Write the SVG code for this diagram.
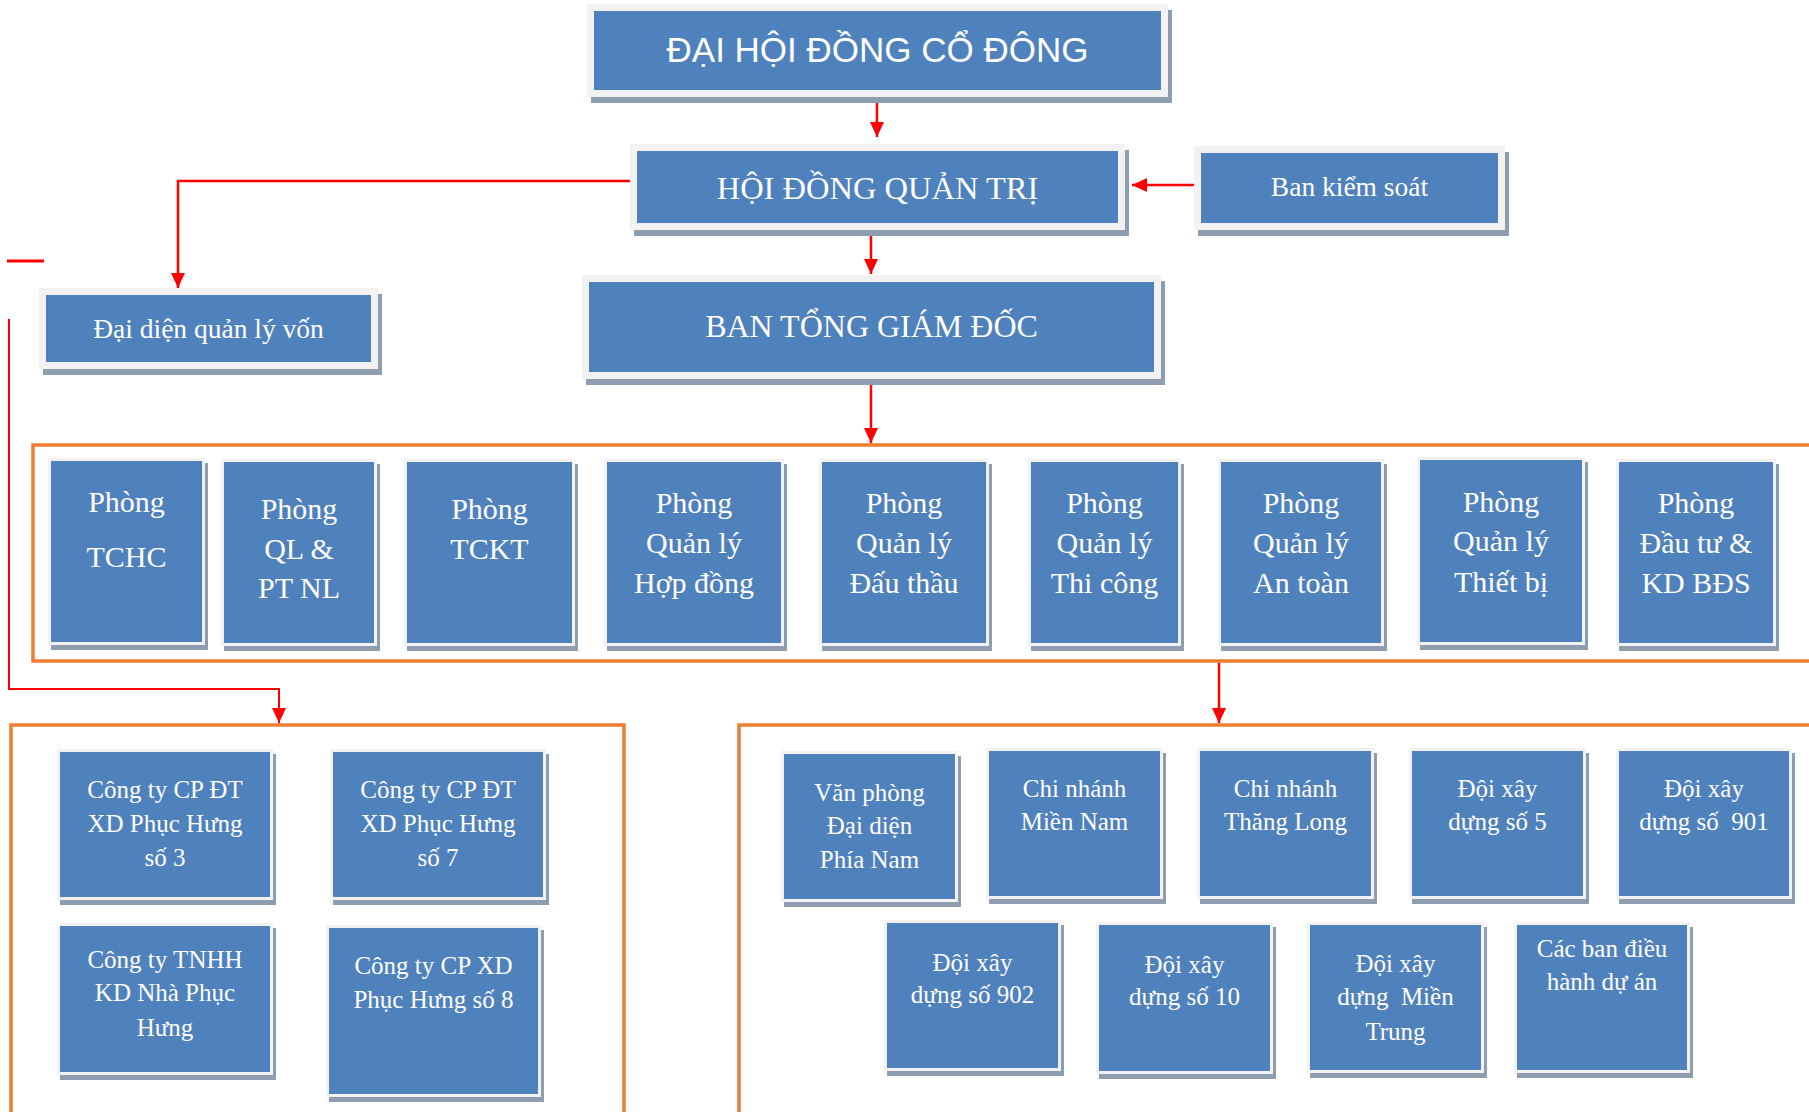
<svg xmlns="http://www.w3.org/2000/svg" width="1809" height="1112" viewBox="0 0 1809 1112">
<style>
.sh{fill:#8f9db0}
.fr{fill:#f2f2f2}
.bx{fill:#4f81bd}
.t{font-family:"Liberation Serif","Times New Roman",serif;fill:#ffffff;text-anchor:middle}
.ts{font-family:"Liberation Sans",Arial,sans-serif;fill:#ffffff;text-anchor:middle}
.f30{font-size:30px}
.f25{font-size:25px}
.conn{stroke:#ff0000;stroke-width:2.5;fill:none}
.thin{stroke-width:2}
.org{stroke:#ed7d31;stroke-width:3.5;fill:none}
</style>
<defs>
<marker id="ah" markerUnits="userSpaceOnUse" markerWidth="15" markerHeight="14" refX="15" refY="7" orient="auto">
<path d="M0,0 L15,7 L0,14 z" fill="#ff0000"/>
</marker>
</defs>
<rect width="1809" height="1112" fill="#ffffff"/>

<g id="frames">
<path class="org" d="M1812,445 H33 V661 H1812"/>
<path class="org" d="M11,1115 V725 H624 V1115"/>
<path class="org" d="M1812,725 H739 V1115"/>
</g>

<g id="connectors">
<path class="conn" d="M877,97 V137" marker-end="url(#ah)"/>
<path class="conn" d="M871,236 V274" marker-end="url(#ah)"/>
<path class="conn" d="M1194,185 H1132" marker-end="url(#ah)"/>
<path class="conn" d="M630,181 H178 V288" marker-end="url(#ah)"/>
<path class="conn" d="M871,384 V443" marker-end="url(#ah)"/>
<path class="conn" d="M1219,663 V723" marker-end="url(#ah)"/>
<path class="conn thin" d="M9,319 V689 H279 V723" marker-end="url(#ah)"/>
<path class="conn" style="stroke-width:3" d="M7,261 H44"/>
</g>

<g id="dhcd">
<rect class="sh" x="591" y="10" width="581" height="93"/>
<rect class="fr" x="587" y="4" width="581" height="93"/>
<rect class="bx" x="594" y="11" width="567" height="79"/>
<text class="ts" x="877.5" y="62" font-size="35">ĐẠI HỘI ĐỒNG CỔ ĐÔNG</text>
</g>

<g id="hdqt">
<rect class="sh" x="634" y="150" width="495" height="86"/>
<rect class="fr" x="630" y="144" width="495" height="86"/>
<rect class="bx" x="637" y="151" width="481" height="72"/>
<text class="t" x="877.5" y="199" font-size="32.5">HỘI ĐỒNG QUẢN TRỊ</text>
</g>

<g id="bks">
<rect class="sh" x="1198" y="152" width="311" height="84"/>
<rect class="fr" x="1194" y="146" width="311" height="84"/>
<rect class="bx" x="1201" y="153" width="297" height="70"/>
<text class="t" x="1349.5" y="196" font-size="27.5">Ban kiểm soát</text>
</g>

<g id="btgd">
<rect class="sh" x="586" y="281" width="579" height="104"/>
<rect class="fr" x="582" y="275" width="579" height="104"/>
<rect class="bx" x="589" y="282" width="565" height="90"/>
<text class="t" x="871.5" y="337" font-size="32">BAN TỔNG GIÁM ĐỐC</text>
</g>

<g id="ddqlv">
<rect class="sh" x="43" y="294" width="339" height="81"/>
<rect class="fr" x="39" y="288" width="339" height="81"/>
<rect class="bx" x="46" y="295" width="325" height="67"/>
<text class="t" x="208.5" y="338" font-size="27.5">Đại diện quản lý vốn</text>
</g>

<g id="p-tchc">
<rect class="sh" x="51" y="463" width="157" height="187"/>
<rect class="fr" x="48" y="458" width="157" height="187"/>
<rect class="bx" x="51" y="461" width="151" height="181"/>
<text class="t f30" x="126.5" y="512">Phòng</text>
<text class="t f30" x="126.5" y="567">TCHC</text>
</g>

<g id="p-qlptnl">
<rect class="sh" x="224" y="464" width="156" height="187"/>
<rect class="fr" x="221" y="459" width="156" height="187"/>
<rect class="bx" x="224" y="462" width="150" height="181"/>
<text class="t f30" x="299" y="519">Phòng</text>
<text class="t f30" x="299" y="559">QL &amp;</text>
<text class="t f30" x="299" y="598">PT NL</text>
</g>

<g id="p-tckt">
<rect class="sh" x="407" y="464" width="171" height="187"/>
<rect class="fr" x="404" y="459" width="171" height="187"/>
<rect class="bx" x="407" y="462" width="165" height="181"/>
<text class="t f30" x="489.5" y="519">Phòng</text>
<text class="t f30" x="489.5" y="559">TCKT</text>
</g>

<g id="p-hopdong">
<rect class="sh" x="607" y="464" width="180" height="187"/>
<rect class="fr" x="604" y="459" width="180" height="187"/>
<rect class="bx" x="607" y="462" width="174" height="181"/>
<text class="t f30" x="694" y="513">Phòng</text>
<text class="t f30" x="694" y="553">Quản lý</text>
<text class="t f30" x="694" y="593">Hợp đồng</text>
</g>

<g id="p-dauthau">
<rect class="sh" x="822" y="464" width="170" height="187"/>
<rect class="fr" x="819" y="459" width="170" height="187"/>
<rect class="bx" x="822" y="462" width="164" height="181"/>
<text class="t f30" x="904" y="513">Phòng</text>
<text class="t f30" x="904" y="553">Quản lý</text>
<text class="t f30" x="904" y="593">Đấu thầu</text>
</g>

<g id="p-thicong">
<rect class="sh" x="1031" y="464" width="153" height="187"/>
<rect class="fr" x="1028" y="459" width="153" height="187"/>
<rect class="bx" x="1031" y="462" width="147" height="181"/>
<text class="t f30" x="1104.5" y="513">Phòng</text>
<text class="t f30" x="1104.5" y="553">Quản lý</text>
<text class="t f30" x="1104.5" y="593">Thi công</text>
</g>

<g id="p-antoan">
<rect class="sh" x="1221" y="464" width="166" height="187"/>
<rect class="fr" x="1218" y="459" width="166" height="187"/>
<rect class="bx" x="1221" y="462" width="160" height="181"/>
<text class="t f30" x="1301" y="513">Phòng</text>
<text class="t f30" x="1301" y="553">Quản lý</text>
<text class="t f30" x="1301" y="593">An toàn</text>
</g>

<g id="p-thietbi">
<rect class="sh" x="1420" y="462" width="168" height="188"/>
<rect class="fr" x="1417" y="457" width="168" height="188"/>
<rect class="bx" x="1420" y="460" width="162" height="182"/>
<text class="t f30" x="1501" y="512">Phòng</text>
<text class="t f30" x="1501" y="551">Quản lý</text>
<text class="t f30" x="1501" y="592">Thiết bị</text>
</g>

<g id="p-bds">
<rect class="sh" x="1619" y="464" width="160" height="187"/>
<rect class="fr" x="1616" y="459" width="160" height="187"/>
<rect class="bx" x="1619" y="462" width="154" height="181"/>
<text class="t f30" x="1696" y="513">Phòng</text>
<text class="t f30" x="1696" y="553">Đầu tư &amp;</text>
<text class="t f30" x="1696" y="593">KD BĐS</text>
</g>

<g id="c-so3">
<rect class="sh" x="60" y="754" width="216" height="151"/>
<rect class="fr" x="57" y="749" width="216" height="151"/>
<rect class="bx" x="60" y="752" width="210" height="145"/>
<text class="t f25" x="165" y="798">Công ty CP ĐT</text>
<text class="t f25" x="165" y="832">XD Phục Hưng</text>
<text class="t f25" x="165" y="866">số 3</text>
</g>

<g id="c-so7">
<rect class="sh" x="333" y="754" width="216" height="151"/>
<rect class="fr" x="330" y="749" width="216" height="151"/>
<rect class="bx" x="333" y="752" width="210" height="145"/>
<text class="t f25" x="438" y="798">Công ty CP ĐT</text>
<text class="t f25" x="438" y="832">XD Phục Hưng</text>
<text class="t f25" x="438" y="866">số 7</text>
</g>

<g id="c-tnhh">
<rect class="sh" x="60" y="928" width="216" height="152"/>
<rect class="fr" x="57" y="923" width="216" height="152"/>
<rect class="bx" x="60" y="926" width="210" height="146"/>
<text class="t f25" x="165" y="968">Công ty TNHH</text>
<text class="t f25" x="165" y="1001">KD Nhà Phục</text>
<text class="t f25" x="165" y="1036">Hưng</text>
</g>

<g id="c-so8">
<rect class="sh" x="329" y="930" width="215" height="172"/>
<rect class="fr" x="326" y="925" width="215" height="172"/>
<rect class="bx" x="329" y="928" width="209" height="166"/>
<text class="t f25" x="433.5" y="974">Công ty CP XD</text>
<text class="t f25" x="433.5" y="1008">Phục Hưng số 8</text>
</g>

<g id="vp-phianam">
<rect class="sh" x="784" y="756" width="177" height="151"/>
<rect class="fr" x="781" y="751" width="177" height="151"/>
<rect class="bx" x="784" y="754" width="171" height="145"/>
<text class="t f25" x="869.5" y="801">Văn phòng</text>
<text class="t f25" x="869.5" y="834">Đại diện</text>
<text class="t f25" x="869.5" y="868">Phía Nam</text>
</g>

<g id="cn-miennam">
<rect class="sh" x="989" y="753" width="177" height="151"/>
<rect class="fr" x="986" y="748" width="177" height="151"/>
<rect class="bx" x="989" y="751" width="171" height="145"/>
<text class="t f25" x="1074.5" y="797">Chi nhánh</text>
<text class="t f25" x="1074.5" y="830">Miền Nam</text>
</g>

<g id="cn-thanglong">
<rect class="sh" x="1200" y="753" width="177" height="151"/>
<rect class="fr" x="1197" y="748" width="177" height="151"/>
<rect class="bx" x="1200" y="751" width="171" height="145"/>
<text class="t f25" x="1285.5" y="797">Chi nhánh</text>
<text class="t f25" x="1285.5" y="830">Thăng Long</text>
</g>

<g id="doi-5">
<rect class="sh" x="1412" y="753" width="177" height="151"/>
<rect class="fr" x="1409" y="748" width="177" height="151"/>
<rect class="bx" x="1412" y="751" width="171" height="145"/>
<text class="t f25" x="1497.5" y="797">Đội xây</text>
<text class="t f25" x="1497.5" y="830">dựng số 5</text>
</g>

<g id="doi-901">
<rect class="sh" x="1619" y="753" width="176" height="151"/>
<rect class="fr" x="1616" y="748" width="176" height="151"/>
<rect class="bx" x="1619" y="751" width="170" height="145"/>
<text class="t f25" x="1704" y="797">Đội xây</text>
<text class="t f25" x="1704" y="830">dựng số&#160; 901</text>
</g>

<g id="doi-902">
<rect class="sh" x="887" y="925" width="177" height="151"/>
<rect class="fr" x="884" y="920" width="177" height="151"/>
<rect class="bx" x="887" y="923" width="171" height="145"/>
<text class="t f25" x="972.5" y="971">Đội xây</text>
<text class="t f25" x="972.5" y="1003">dựng số 902</text>
</g>

<g id="doi-10">
<rect class="sh" x="1099" y="927" width="177" height="152"/>
<rect class="fr" x="1096" y="922" width="177" height="152"/>
<rect class="bx" x="1099" y="925" width="171" height="146"/>
<text class="t f25" x="1184.5" y="973">Đội xây</text>
<text class="t f25" x="1184.5" y="1005">dựng số 10</text>
</g>

<g id="doi-mientrung">
<rect class="sh" x="1310" y="927" width="177" height="151"/>
<rect class="fr" x="1307" y="922" width="177" height="151"/>
<rect class="bx" x="1310" y="925" width="171" height="145"/>
<text class="t f25" x="1395.5" y="972">Đội xây</text>
<text class="t f25" x="1395.5" y="1005">dựng&#160; Miền</text>
<text class="t f25" x="1395.5" y="1040">Trung</text>
</g>

<g id="ban-dieuhanh">
<rect class="sh" x="1517" y="927" width="176" height="151"/>
<rect class="fr" x="1514" y="922" width="176" height="151"/>
<rect class="bx" x="1517" y="925" width="170" height="145"/>
<text class="t f25" x="1602" y="957">Các ban điều</text>
<text class="t f25" x="1602" y="990">hành dự án</text>
</g>
</svg>
